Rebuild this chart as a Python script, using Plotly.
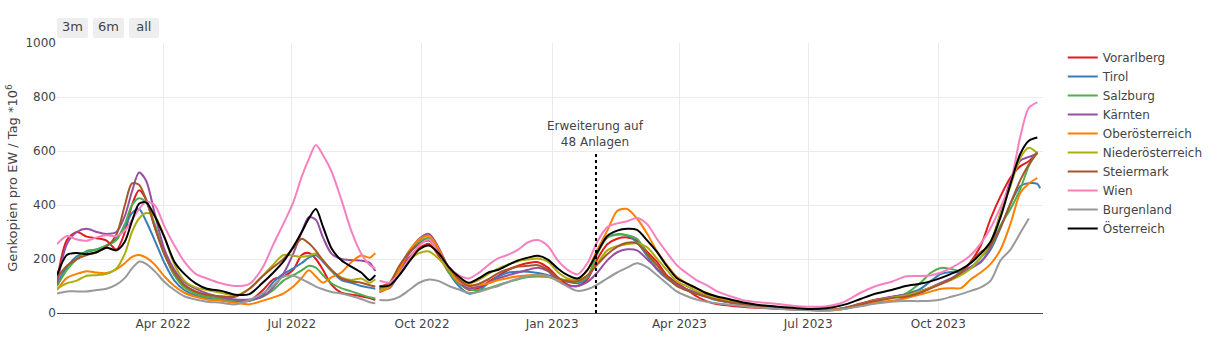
import plotly.graph_objects as go

# ---------------- dates ----------------
dates_2022 = ["2022-01-16","2022-01-23","2022-01-30","2022-02-06","2022-02-13","2022-02-20","2022-02-27",
              "2022-03-05","2022-03-10","2022-03-15","2022-03-20","2022-03-26","2022-04-02","2022-04-09",
              "2022-04-16","2022-04-24","2022-05-02","2022-05-12","2022-05-22","2022-06-01","2022-06-10",
              "2022-06-18","2022-06-25","2022-07-02","2022-07-08","2022-07-13","2022-07-18","2022-07-23",
              "2022-07-29","2022-08-05","2022-08-12","2022-08-19","2022-08-25","2022-08-29"]
gap_date = ["2022-08-31"]
dates_2023 = ["2022-09-01","2022-09-08","2022-09-15","2022-09-22","2022-09-29","2022-10-06","2022-10-13",
              "2022-10-20","2022-10-27","2022-11-03","2022-11-10","2022-11-17","2022-11-24","2022-12-01",
              "2022-12-08","2022-12-15","2022-12-22","2022-12-29","2023-01-05","2023-01-12","2023-01-19",
              "2023-01-26",
              "2023-02-02","2023-02-09","2023-02-16","2023-02-23","2023-03-02","2023-03-09","2023-03-16",
              "2023-03-23","2023-03-30","2023-04-06","2023-04-13","2023-04-20","2023-04-27","2023-05-07",
              "2023-05-17","2023-05-27","2023-06-08","2023-06-20","2023-07-02",
              "2023-07-14","2023-07-26","2023-08-07","2023-08-18","2023-08-29","2023-09-08","2023-09-18",
              "2023-09-26","2023-10-03","2023-10-10","2023-10-17","2023-10-24","2023-10-31","2023-11-07",
              "2023-11-14","2023-11-21","2023-11-28","2023-12-04","2023-12-10","2023-12-12"]

# ---------------- series (first period, second period) ----------------
vorarlberg_a = [120,270,300,283,277,268,235,300,400,455,420,320,220,140,100,75,62,52,45,45,82,125,135,160,215,222,200,160,105,75,68,62,55,48]
vorarlberg_b = [78,95,150,205,240,256,210,150,112,86,92,115,138,160,175,185,188,168,132,105,100,125,
                200,255,275,280,268,228,190,140,112,88,62,44,33,27,22,19,16,13,11,
                12,18,35,50,58,68,80,95,110,125,145,190,250,350,433,502,544,562,596,None]

tirol_a = [110,170,210,225,235,250,275,320,370,385,340,270,185,120,85,65,55,48,45,45,65,115,145,165,185,205,214,190,155,122,112,100,94,90]
tirol_b = [90,100,160,220,258,275,225,150,100,72,82,110,135,150,153,153,148,140,128,116,110,130,
           225,280,292,287,262,212,162,128,104,88,73,60,48,38,30,23,19,15,11,
           11,16,30,45,58,70,88,120,145,152,150,165,190,235,315,405,470,481,478,462]

salzburg_a = [100,160,200,230,235,250,270,330,400,425,410,330,220,140,95,72,60,52,48,48,60,85,120,140,158,175,168,140,110,92,80,68,58,54]
salzburg_b = [88,100,165,230,265,277,225,150,110,88,85,92,104,115,125,133,135,133,127,120,116,135,
              220,280,290,288,275,220,165,132,104,85,72,62,50,40,31,24,19,15,11,
              11,16,30,45,58,72,110,150,167,163,155,170,205,245,325,385,460,545,598,None]

kaernten_a = [105,255,300,312,300,293,300,360,450,520,490,370,235,160,115,90,72,58,50,50,60,95,145,220,300,355,345,280,220,200,196,194,186,155]
kaernten_b = [90,92,150,225,275,293,240,165,115,92,98,112,128,140,150,160,168,155,120,102,100,115,
              150,195,225,236,232,200,165,132,105,88,76,64,52,40,32,26,20,15,11,
              12,18,32,48,60,68,80,95,112,128,150,170,188,245,370,490,565,578,590,None]

oberoesterreich_a = [85,130,145,155,150,148,162,185,208,215,205,180,135,100,75,60,50,45,38,32,45,58,72,98,130,158,135,112,132,150,188,213,205,222]
oberoesterreich_b = [80,95,160,230,272,285,235,160,115,104,104,110,122,130,136,140,140,135,123,122,124,160,
                     235,305,378,385,350,295,230,178,135,110,91,75,60,45,34,25,20,16,11,
                     8,15,28,40,45,55,68,80,90,92,92,125,150,182,235,330,445,480,500,None]

niederoesterreich_a = [90,110,120,138,140,145,165,220,300,350,370,360,280,180,120,95,85,75,65,90,135,180,215,212,208,212,220,195,158,132,122,128,112,125]
niederoesterreich_b = [85,100,145,195,222,228,200,160,125,110,122,145,165,180,192,198,202,190,152,128,122,138,
                       185,232,248,255,258,244,202,160,118,100,82,67,55,42,33,26,20,15,11,
                       12,18,32,47,57,65,80,95,108,122,140,165,205,262,370,470,575,612,592,None]

steiermark_a = [130,175,200,215,225,245,290,400,480,475,420,320,215,150,105,80,68,62,60,90,135,170,200,240,275,258,230,195,160,128,117,112,103,98]
steiermark_b = [98,112,175,225,255,268,225,170,125,100,108,125,148,162,172,175,177,160,130,118,118,140,
                180,218,245,260,258,220,178,135,100,84,70,60,50,40,32,25,19,15,11,
                12,18,32,45,55,60,75,92,108,125,150,190,225,252,318,405,493,550,594,None]

wien_a = [255,285,272,268,280,288,285,305,345,385,412,400,320,250,190,145,128,110,100,108,165,255,330,410,505,570,622,585,525,420,305,220,178,165]
wien_b = [120,113,145,200,250,272,220,170,140,128,148,178,203,216,235,262,270,248,195,160,143,185,
          265,318,332,340,352,330,275,225,178,148,122,104,82,62,46,40,34,27,23,
          25,40,75,100,116,135,137,140,150,167,188,215,258,315,392,480,655,760,780,None]

burgenland_a = [72,80,80,80,85,90,105,130,165,190,182,155,115,85,62,50,42,38,32,48,72,102,135,138,125,112,98,88,78,72,63,52,40,36]
burgenland_b = [48,48,60,85,112,124,118,100,87,75,78,90,100,115,128,137,141,137,118,98,82,88,
                105,128,150,168,184,170,141,110,80,63,50,42,36,30,25,20,16,12,10,
                10,15,25,35,42,44,44,45,50,60,70,82,95,120,195,235,297,350,None,None]

oesterreich_a = [140,215,222,218,225,242,232,265,340,405,410,360,280,190,145,110,90,82,68,70,110,150,190,245,300,350,385,320,240,195,172,150,122,140]
oesterreich_b = [98,102,140,190,235,250,220,170,135,112,128,150,160,178,195,205,212,198,165,140,128,160,
                 225,285,305,312,308,270,227,175,130,110,92,73,62,50,38,30,24,19,15,
                 18,30,52,72,85,100,108,118,130,145,162,185,220,265,355,478,590,638,650,None]

regions = ["Vorarlberg","Tirol","Salzburg","Kärnten","Oberösterreich","Niederösterreich",
           "Steiermark","Wien","Burgenland","Österreich"]
colors = ["#e41a1c","#377eb8","#4daf4a","#984ea3","#ff7f00","#adad0c",
          "#a65628","#f781bf","#999999","#000000"]
series = [(vorarlberg_a, vorarlberg_b), (tirol_a, tirol_b), (salzburg_a, salzburg_b),
          (kaernten_a, kaernten_b), (oberoesterreich_a, oberoesterreich_b),
          (niederoesterreich_a, niederoesterreich_b), (steiermark_a, steiermark_b),
          (wien_a, wien_b), (burgenland_a, burgenland_b), (oesterreich_a, oesterreich_b)]

x_all = dates_2022 + gap_date + dates_2023

fig = go.Figure()
for name, col, (a, b) in zip(regions, colors, series):
    if len(a) != len(dates_2022) or len(b) != len(dates_2023):
        raise ValueError(f"{name}: {len(a)} {len(b)} vs {len(dates_2022)} {len(dates_2023)}")
    fig.add_trace(go.Scatter(
        x=x_all, y=a + [None] + b, name=name, mode="lines",
        line=dict(color=col, width=2, shape="spline", smoothing=0.8),
        connectgaps=False))

marker_date = "2023-02-01"
fig.add_shape(type="line", xref="x", yref="y", x0=marker_date, x1=marker_date, y0=0, y1=590,
              line=dict(color="black", width=2, dash="dot"))
fig.add_annotation(x=marker_date, y=600, xref="x", yref="y", text="Erweiterung auf<br>48 Anlagen",
                   showarrow=False, yanchor="bottom", font=dict(size=12, color="#444"))

fig.update_layout(
    width=1221, height=339,
    margin=dict(l=57, r=178, t=43, b=26),
    paper_bgcolor="white", plot_bgcolor="white",
    font=dict(family="DejaVu Sans, Verdana, sans-serif", size=12, color="#444"),
    showlegend=True,
    legend=dict(font=dict(size=12), tracegroupgap=0),
    xaxis=dict(
        type="date", range=["2022-01-16", "2023-12-14"], automargin=False,
        dtick="M3", tick0="2022-01-01", tickformat="%b %Y",
        showgrid=True, gridcolor="#ebebeb", showline=True, linecolor="#444", linewidth=1,
        zeroline=False, ticks="",
        rangeselector=dict(font=dict(size=13), buttons=[
            dict(count=3, label="3m", step="month", stepmode="backward"),
            dict(count=6, label="6m", step="month", stepmode="backward"),
            dict(step="all", label="all")]),
    ),
    yaxis=dict(
        range=[0, 1000], dtick=200, showgrid=True, gridcolor="#ebebeb", zeroline=False,
        automargin=False,
        title=dict(text="Genkopien pro EW / Tag *10<sup>6</sup>", font=dict(size=13), standoff=4),
    ),
)

fig.write_html("out.html")
